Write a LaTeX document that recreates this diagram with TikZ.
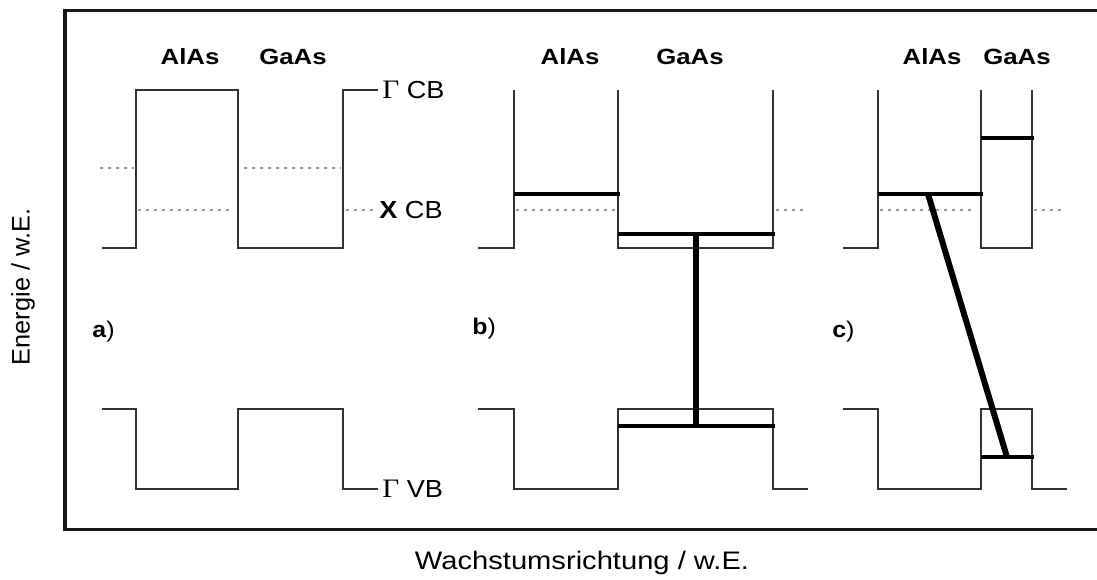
\documentclass[tikz,border=0pt]{standalone}
\usepackage{fontspec}
\setmainfont{Liberation Sans}
\newfontfamily\serifg{Liberation Serif}
\begin{document}
\begin{tikzpicture}[x=0.75pt,y=-0.75pt,
  band/.style={draw=black!80, line width=1.1pt, line join=miter},
  xline/.style={draw=black!40, line width=1.2pt, dash pattern=on 2.2pt off 3.8pt},
  level/.style={draw=black, line width=3pt},
  trans/.style={draw=black, line width=4.5pt},
  frame/.style={draw=black!90, line width=2.4pt},
  mat/.style={font=\bfseries\fontsize{16.5}{18}\selectfont, xscale=1.17, inner sep=0pt},
  panel/.style={font=\fontsize{17}{19}\selectfont, xscale=1.1, anchor=west, inner sep=0pt},
  bandlbl/.style={font=\fontsize{18.5}{20}\selectfont, xscale=1.1, anchor=west, inner sep=0pt},
  axis/.style={font=\fontsize{19}{21}\selectfont, inner sep=0pt}]
\useasboundingbox (0,0) rectangle (1097,579);
\clip (0,0) rectangle (1097,579);
% frame
\draw[frame] (65,10.5) rectangle (1110,529.5);
% ---------- panel a ----------
\draw[xline] (100,168) -- (134,168) (244,168) -- (341,168);
\draw[xline] (138,210) -- (234,210) (346,210) -- (378,210);
\draw[band] (102,248) -- (136,248) -- (136,90) -- (238,90) -- (238,248) -- (343,248) -- (343,90) -- (378,90);
\draw[band] (102,409) -- (136,409) -- (136,489) -- (238,489) -- (238,409) -- (343,409) -- (343,489) -- (378,489);
\node[mat] (aAl) at (190,57) {AlAs};
\node[mat] (aGa) at (293,57) {GaAs};
\node[bandlbl] (gcb) at (382,90) {{\serifg\fontsize{20}{22}\selectfont Γ} CB};
\node[bandlbl] (xcb) at (379,210) {\textbf{X} CB};
\node[bandlbl] (gvb) at (382,489) {{\serifg\fontsize{20}{22}\selectfont Γ} VB};
\node[panel] (la) at (92,332) {\textbf{a})};
% ---------- panel b ----------
\draw[xline] (516,210) -- (616,210) (776,210) -- (806,210);
\draw[band] (478,248) -- (514,248) -- (514,90);
\draw[band] (618,90) -- (618,248) -- (773,248) -- (773,90);
\draw[band] (478,409) -- (514,409) -- (514,489) -- (618,489) -- (618,409) -- (773,409) -- (773,489) -- (808,489);
\draw[level] (514,194) -- (620,194);
\draw[level] (618,234) -- (775,234);
\draw[level] (618,426) -- (775,426);
\coordinate (bTop) at (696,234);
\coordinate (bBot) at (696,426);
\draw[trans] (bTop) -- (bBot);
\node[mat] (bAl) at (570,57) {AlAs};
\node[mat] (bGa) at (690,57) {GaAs};
\node[panel] (lb) at (472,329) {\textbf{b})};
% ---------- panel c ----------
\draw[xline] (880,210) -- (975,210) (1034,210) -- (1063,210);
\draw[band] (843,248) -- (878,248) -- (878,90);
\draw[band] (981,90) -- (981,248) -- (1032,248) -- (1032,90);
\draw[band] (843,409) -- (878,409) -- (878,489) -- (981,489) -- (981,409) -- (1032,409) -- (1032,489) -- (1067,489);
\draw[level] (878,194) -- (983,194);
\draw[level] (981,138) -- (1034,138);
\draw[level] (981,457) -- (1034,457);
\coordinate (cTop) at (928,194);
\coordinate (cBot) at (1007,457);
\draw[trans] (cTop) -- (cBot);
\node[mat] (cAl) at (932,57) {AlAs};
\node[mat] (cGa) at (1017,57) {GaAs};
\node[panel] (lc) at (832,332) {\textbf{c})};
% ---------- axes ----------
\node[axis, rotate=90] (ylab) at (23,287) {Energie / w.E.};
\node[axis, xscale=1.15] (xlab) at (582,563) {Wachstumsrichtung / w.E.};
\end{tikzpicture}
\end{document}
